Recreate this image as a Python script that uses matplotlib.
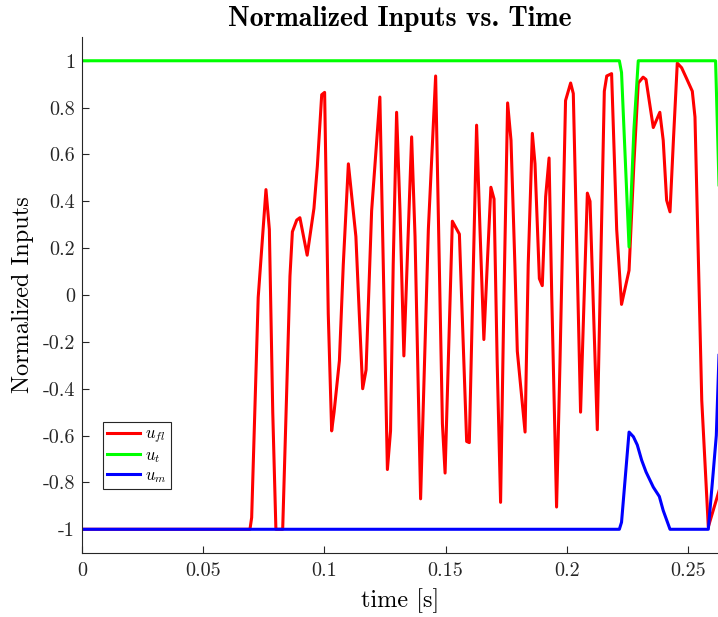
import matplotlib
matplotlib.use("Agg")
import matplotlib.pyplot as plt

plt.rcParams['font.family'] = 'serif'
plt.rcParams['font.serif'] = ['cmr10']
plt.rcParams['mathtext.fontset'] = 'cm'
plt.rcParams['axes.unicode_minus'] = False

# red: u_fl
t_fl = [0.0, 0.0693, 0.0700, 0.0727, 0.0759, 0.0773, 0.0787, 0.0800, 0.0828, 0.0844,
        0.0858, 0.0868, 0.0886, 0.0899, 0.0929, 0.0957, 0.0971, 0.0989, 0.1001, 0.1016,
        0.1030, 0.1040, 0.1062, 0.1078, 0.1099, 0.1130, 0.1144, 0.1158, 0.1172, 0.1195,
        0.1229, 0.1243, 0.1260, 0.1273, 0.1284, 0.1298, 0.1312, 0.1328, 0.1360, 0.1374,
        0.1397, 0.1429, 0.1459, 0.1487, 0.1498, 0.1528, 0.1557, 0.1587, 0.1598, 0.1628,
        0.1642, 0.1658, 0.1672, 0.1687, 0.1700, 0.1713, 0.1727, 0.1741, 0.1756, 0.1770,
        0.1786, 0.1796, 0.1828, 0.1841, 0.1858, 0.1869, 0.1887, 0.1899, 0.1913, 0.1927,
        0.1938, 0.1958, 0.1972, 0.1995, 0.2016, 0.2027, 0.2057, 0.2085, 0.2096, 0.2126,
        0.2155, 0.2165, 0.2185, 0.2206, 0.2226, 0.2257, 0.2277, 0.2295, 0.2315, 0.2327,
        0.2357, 0.2384, 0.2398, 0.2412, 0.2426, 0.2440, 0.2456, 0.2474, 0.2494, 0.2518,
        0.2529, 0.2557, 0.2584, 0.2604, 0.2630]
u_fl = [-1.0, -1.0, -0.95, -0.01, 0.45, 0.28, -0.5, -1.0, -1.0, -0.43,
        0.08, 0.27, 0.32, 0.33, 0.17, 0.37, 0.55, 0.855, 0.865, -0.08,
        -0.58, -0.5, -0.28, 0.13, 0.56, 0.25, -0.08, -0.40, -0.32, 0.36,
        0.845, 0.13, -0.745, -0.58, 0.13, 0.78, 0.36, -0.26, 0.675, 0.25,
        -0.87, 0.28, 0.935, -0.55, -0.76, 0.315, 0.26, -0.625, -0.63, 0.725,
        0.28, -0.19, 0.13, 0.46, 0.41, -0.29, -0.885, 0.0, 0.82, 0.66,
        0.13, -0.24, -0.585, 0.13, 0.69, 0.56, 0.07, 0.04, 0.42, 0.585,
        0.0, -0.905, -0.29, 0.83, 0.905, 0.86, -0.50, 0.435, 0.40, -0.575,
        0.87, 0.935, 0.945, 0.28, -0.04, 0.105, 0.56, 0.905, 0.93, 0.92,
        0.715, 0.78, 0.66, 0.405, 0.355, 0.66, 0.99, 0.97, 0.925, 0.87,
        0.76, -0.45, -0.99, -0.92, -0.83]

# green: u_t
t_t = [0.0, 0.2217, 0.2226, 0.2257, 0.2277, 0.2295, 0.2614, 0.2630]
u_t = [1.0, 1.0, 0.95, 0.205, 0.705, 1.0, 1.0, 0.4]

# blue: u_m
t_m = [0.0, 0.2217, 0.2226, 0.2257, 0.2275, 0.2291, 0.2309, 0.2327, 0.2357, 0.2382,
       0.2398, 0.2426, 0.2584, 0.2604, 0.2617, 0.2630]
u_m = [-1.0, -1.0, -0.97, -0.585, -0.605, -0.64, -0.705, -0.755, -0.82, -0.86,
       -0.92, -1.0, -1.0, -0.76, -0.6, -0.2]

yticks = [-1, -0.8, -0.6, -0.4, -0.2, 0, 0.2, 0.4, 0.6, 0.8, 1]
ytick_labels = ['-1', '-0.8', '-0.6', '-0.4', '-0.2', '0', '0.2', '0.4', '0.6', '0.8', '1']
xticks = [0, 0.05, 0.1, 0.15, 0.2, 0.25]
xtick_labels = ['0', '0.05', '0.1', '0.15', '0.2', '0.25']

fig = plt.figure(figsize=(7.18, 6.17), dpi=100)
ax = fig.add_axes([0.1142, 0.1042, 0.8858, 0.8353])

ax.plot(t_fl, u_fl, color='#ff0000', lw=2.2, label='$u_{fl}$')
ax.plot(t_t, u_t, color='#00ff00', lw=2.2, label='$u_t$')
ax.plot(t_m, u_m, color='#0000ff', lw=2.2, label='$u_m$')

ax.set_xlim(0, 0.2624)
ax.set_ylim(-1.1, 1.1)
ax.set_xticks(xticks)
ax.set_xticklabels(xtick_labels)
ax.set_yticks(yticks)
ax.set_yticklabels(ytick_labels)

for s in ['top', 'right']:
    ax.spines[s].set_visible(False)
for s in ['left', 'bottom']:
    ax.spines[s].set_color('#262626')
    ax.spines[s].set_linewidth(0.8)
ax.tick_params(direction='in', length=5, width=0.8, colors='#262626', labelsize=14.5)
ax.tick_params(axis='x', pad=7)
ax.tick_params(axis='y', pad=5)

ax.set_xlabel('time [s]', fontsize=17.5, labelpad=6)
ax.set_ylabel('Normalized Inputs', fontsize=17.5, labelpad=6)
ax.set_title('Normalized Inputs vs. Time', fontsize=20, fontfamily='cmb10', pad=8)

leg = ax.legend(loc='lower left', bbox_to_anchor=(0.033, 0.124), fontsize=12,
                frameon=True, fancybox=False, edgecolor='#262626', framealpha=1,
                handlelength=2.0, handletextpad=0.3, borderpad=0.25, labelspacing=0.15,
                borderaxespad=0)
leg.get_frame().set_linewidth(0.8)

fig.savefig('out.png', dpi=100)
